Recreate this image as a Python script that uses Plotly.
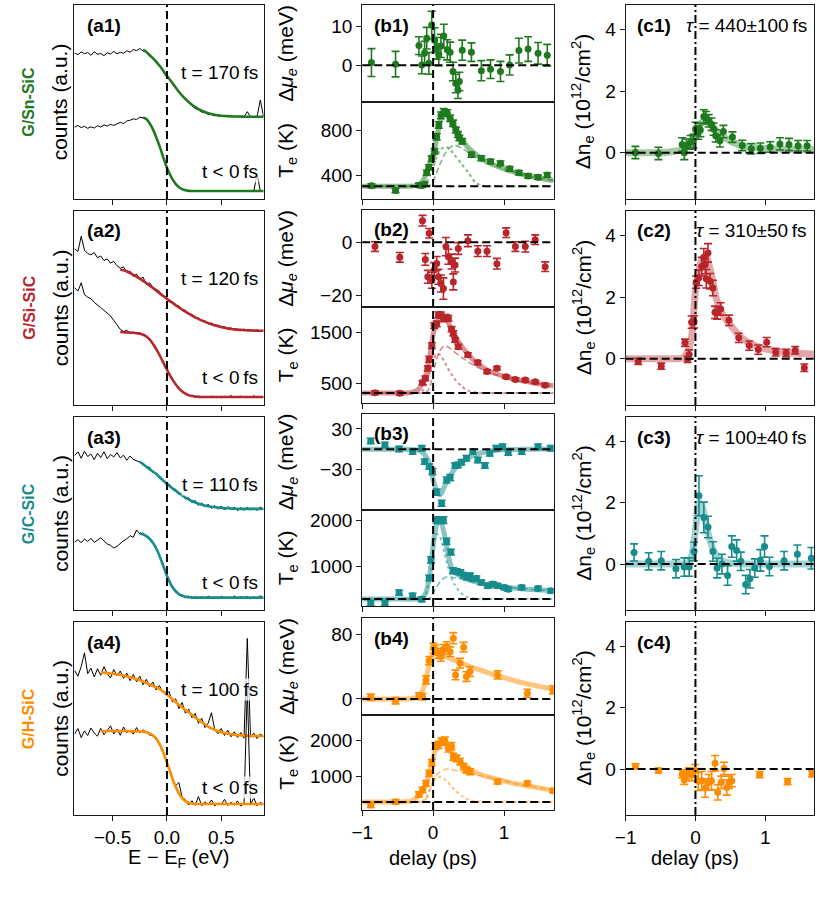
import plotly.graph_objects as go

# ---------------- data ----------------
E_GRID = [-0.85, -0.82, -0.79, -0.76, -0.73, -0.70, -0.67, -0.64, -0.61, -0.58,
          -0.55, -0.52, -0.49, -0.46, -0.43, -0.40, -0.37, -0.34, -0.31, -0.28,
          -0.25, -0.22, -0.19, -0.16, -0.13, -0.10, -0.07, -0.04, -0.01, 0.02,
          0.05, 0.08, 0.11, 0.14, 0.17, 0.20, 0.23, 0.26, 0.29, 0.32,
          0.35, 0.38, 0.41, 0.44, 0.47, 0.50, 0.53, 0.56, 0.59, 0.62,
          0.65, 0.68, 0.71, 0.74, 0.77, 0.80, 0.83, 0.86, 0.89]

SN_UP = [75.2, 74.4, 75.8, 74.9, 75.5, 74.1, 75.9, 74.6, 75.0, 73.9,
         75.4, 74.7, 76.1, 74.8, 75.6, 75.1, 76.4, 75.7, 77.0, 76.5,
         77.6, 76.2, 75.9, 73.5, 72.8, 70.5, 69.1, 66.2, 64.8, 61.9,
         60.3, 57.2, 55.4, 53.0, 51.1, 49.8, 48.4, 46.6, 46.0, 44.8,
         44.5, 43.6, 43.5, 42.9, 43.1, 42.6, 42.8, 42.4, 42.6, 42.4,
         42.5, 42.3, 42.4, 45.0, 42.4, 42.3, 42.5, 51.0, 42.4]
SN_UP_FIT = [77.0, 75.8, 74.3, 72.6, 70.8, 68.8, 66.6, 64.0, 62.0, 59.8, 57.5, 55.3, 53.3, 51.6,
             50.0, 48.6, 47.4, 46.3, 45.5, 44.8, 44.2, 43.8, 43.4, 43.1, 42.9, 42.8, 42.7, 42.6,
             42.5, 42.5, 42.5, 42.4, 42.4, 42.4, 42.4, 42.4, 42.4, 42.4]
SN_LOW = [37.0, 37.9, 36.8, 37.5, 36.4, 37.2, 36.6, 37.8, 37.1, 38.2,
          37.6, 38.5, 37.9, 38.8, 39.5, 38.9, 40.2, 40.6, 41.3, 41.0,
          42.2, 41.8, 41.0, 38.7, 36.3, 31.5, 27.9, 22.1, 17.9, 13.2,
          10.5, 7.6, 6.3, 4.9, 4.6, 4.1, 4.3, 4.0, 4.2, 4.1,
          4.0, 4.2, 4.1, 4.0, 4.2, 4.1, 4.0, 4.2, 4.1, 4.0,
          4.1, 4.2, 4.0, 4.1, 4.2, 4.0, 13.0, 4.1, 4.1]
SN_LOW_FIT = [42.0, 41.2, 39.0, 36.0, 32.0, 27.5, 22.5, 17.6, 13.5, 10.2, 7.8, 6.1, 5.1, 4.5, 4.2,
              4.1, 4.1, 4.1, 4.1, 4.1, 4.1, 4.1, 4.1, 4.1, 4.1, 4.1, 4.1, 4.1, 4.1, 4.1, 4.1,
              4.1, 4.1, 4.1, 4.1, 4.1, 4.1, 4.1]

SI_UP = [80.5, 79.2, 87.0, 79.8, 78.1, 77.4, 78.6, 75.9, 76.8, 74.5,
         75.3, 73.2, 74.0, 71.8, 70.5, 71.2, 68.4, 69.0, 66.2, 67.5,
         64.8, 65.9, 62.1, 63.0, 60.8, 59.5, 58.6, 56.2, 55.9, 53.1,
         53.4, 51.0, 51.2, 48.7, 48.9, 46.6, 46.8, 44.7, 44.9, 43.1,
         43.5, 41.8, 42.3, 40.7, 41.3, 39.8, 40.5, 39.1, 39.8, 38.6,
         39.2, 38.4, 39.1, 38.2, 38.9, 38.0, 38.8, 38.1, 38.6]
SI_UP_FIT = [69.9, 69.4, 68.8, 68.0, 67.1, 66.1, 65.1, 64.0, 62.9, 61.6,
             60.3, 59.0, 57.7, 56.4, 55.2, 53.9, 52.7, 51.5, 50.3, 49.2,
             48.1, 47.1, 46.1, 45.2, 44.4, 43.6, 42.9, 42.2, 41.6, 41.1,
             40.6, 40.2, 39.8, 39.5, 39.2, 39.0, 38.8, 38.7, 38.6, 38.5,
             38.4, 38.4, 38.3, 38.3, 38.3]
SI_LOW = [60.5, 58.7, 63.0, 56.9, 55.6, 54.8, 52.9, 51.7, 50.2, 48.8,
          47.1, 45.9, 43.6, 41.2, 39.0, 37.9, 38.5, 37.1, 37.6, 36.8,
          37.4, 36.0, 35.6, 33.2, 32.0, 28.4, 26.3, 22.1, 19.6, 15.5,
          13.6, 10.2, 8.9, 6.6, 6.1, 4.8, 4.9, 4.1, 4.5, 3.8,
          4.4, 3.9, 4.6, 4.0, 4.3, 3.7, 4.5, 4.1, 4.8, 3.9,
          4.2, 4.6, 3.8, 4.4, 4.0, 4.7, 3.9, 4.3, 4.1]
SI_LOW_FIT = [37.6, 37.5, 37.4, 37.3, 37.2, 37.0, 36.7, 36.2, 35.3, 33.8,
              31.6, 28.9, 25.9, 22.6, 19.3, 16.1, 13.2, 10.7, 8.6, 7.0,
              5.9, 5.1, 4.6, 4.3, 4.2, 4.1, 4.1, 4.1, 4.1, 4.1,
              4.1, 4.1, 4.1, 4.1, 4.1, 4.1, 4.1, 4.1, 4.1, 4.1,
              4.1, 4.1, 4.1, 4.1, 4.1]

C_UP = [80.1, 81.9, 78.6, 82.3, 79.5, 80.8, 77.9, 81.2, 79.0, 82.0,
        78.4, 80.6, 79.3, 81.5, 78.8, 80.2, 77.6, 79.8, 78.0, 77.2,
        76.5, 75.9, 73.8, 74.1, 71.3, 71.0, 68.2, 68.0, 65.1, 65.3,
        62.4, 62.6, 59.8, 60.1, 57.5, 58.2, 55.6, 56.7, 54.2, 55.5,
        53.4, 54.8, 52.6, 54.1, 52.2, 53.9, 51.8, 53.6, 52.0, 53.3,
        51.5, 53.0, 51.7, 53.2, 51.9, 52.8, 51.6, 53.4, 52.0]
C_UP_FIT = [76.8, 75.6, 74.3, 73.0, 71.7, 70.6, 69.0, 67.4, 65.9, 64.4,
            63.1, 61.8, 60.6, 59.4, 58.3, 57.3, 56.5, 55.7, 55.1, 54.6,
            54.1, 53.8, 53.5, 53.3, 53.1, 52.9, 52.8, 52.7, 52.6, 52.5,
            52.4, 52.4, 52.4, 52.4, 52.4, 52.4, 52.4, 52.4, 52.4]
C_LOW = [35.2, 36.4, 34.9, 36.8, 35.5, 37.1, 35.0, 36.3, 37.4, 35.8,
         34.2, 33.5, 32.1, 33.0, 34.6, 35.9, 36.8, 38.5, 37.7, 41.5,
         39.4, 39.8, 37.9, 37.2, 34.3, 32.6, 27.8, 24.5, 18.7, 15.8,
         11.2, 10.5, 7.6, 8.1, 6.2, 7.3, 5.9, 7.0, 6.1, 6.9,
         5.8, 7.2, 6.0, 6.8, 5.7, 7.1, 6.2, 6.6, 5.9, 7.3,
         6.0, 6.8, 6.3, 7.0, 5.8, 6.7, 6.1, 7.4, 6.2]
C_LOW_FIT = [39.7, 39.2, 38.3, 36.9, 34.8, 32.0, 28.3, 23.8, 19.2, 15.1,
             11.9, 9.7, 8.3, 7.4, 6.9, 6.6, 6.5, 6.4, 6.4, 6.4,
             6.4, 6.4, 6.4, 6.4, 6.4, 6.4, 6.4, 6.4, 6.4, 6.4,
             6.4, 6.4, 6.4, 6.4, 6.4, 6.4, 6.4, 6.4, 6.4]

H_UP = [74.8, 71.9, 77.0, 84.0, 73.2, 76.1, 71.5, 75.8, 72.4, 76.9,
        73.1, 71.0, 75.4, 72.2, 74.6, 70.8, 73.5, 69.6, 72.8, 69.0,
        71.9, 67.5, 70.3, 66.4, 68.9, 64.8, 67.1, 63.9, 62.1, 64.0,
        58.6, 60.2, 55.1, 58.3, 52.7, 54.9, 50.4, 52.6, 47.5, 50.1,
        45.3, 47.6, 53.0, 44.2, 42.1, 44.8, 41.2, 43.9, 40.5, 43.1,
        40.2, 42.7, 39.8, 91.5, 40.3, 42.5, 39.6, 42.0, 40.7]
H_UP_FIT = [73.9, 73.7, 73.5, 73.3, 73.1, 72.9, 72.6, 72.3, 71.9, 71.4,
            70.9, 70.4, 69.8, 69.1, 68.4, 67.7, 66.9, 66.2, 65.3, 64.2,
            63.0, 61.5, 60.0, 58.5, 57.1, 55.7, 54.4, 53.2, 51.9, 50.6,
            49.3, 48.1, 46.9, 45.8, 44.9, 44.1, 43.4, 42.9, 42.5, 42.1,
            41.8, 41.6, 41.4, 41.3, 41.2, 41.1, 41.0, 41.0, 40.9, 40.9, 40.9]
H_LOW = [42.0, 44.8, 40.1, 43.6, 41.2, 45.1, 42.5, 40.8, 44.9, 41.6,
         43.8, 46.2, 42.0, 44.5, 41.3, 45.6, 42.7, 44.0, 41.9, 45.3,
         42.6, 44.1, 43.0, 41.5, 41.0, 40.3, 36.2, 33.9, 28.1, 24.5,
         18.4, 15.2, 16.8, 9.1, 8.0, 5.2, 7.4, 5.0, 9.6, 4.8,
         6.9, 5.3, 7.8, 4.7, 6.2, 5.5, 8.1, 4.9, 6.6, 5.1,
         7.3, 4.6, 6.0, 65.5, 5.4, 8.9, 4.8, 6.5, 5.6]
H_LOW_FIT = [43.5, 43.5, 43.5, 43.5, 43.5, 43.5, 43.5, 43.5, 43.5, 43.4,
             43.4, 43.4, 43.3, 43.2, 42.9, 42.3, 41.3, 39.6, 37.0, 33.3,
             28.8, 23.9, 19.0, 14.7, 11.2, 8.7, 7.2, 6.3, 5.9, 5.8,
             5.7, 5.7, 5.7, 5.7, 5.7, 5.7, 5.7, 5.7, 5.7, 5.7,
             5.7, 5.7, 5.7, 5.7, 5.7, 5.7, 5.7, 5.7, 5.7, 5.7, 5.7]

# delay grid for model curves (ps)
FIT_T = [-1.0, -0.8, -0.6, -0.4, -0.3, -0.2, -0.15, -0.1, -0.05, 0.0, 0.05, 0.1, 0.15,
         0.2, 0.25, 0.3, 0.4, 0.5, 0.6, 0.7, 0.8, 1.0, 1.2, 1.4, 1.7]

# ---- G/Sn-SiC
B1_T = [-0.87, -0.53, -0.20, -0.16, -0.12, -0.09, -0.06, -0.02, 0.02, 0.05, 0.08, 0.11, 0.15, 0.20,
        0.24, 0.28, 0.32, 0.35, 0.37, 0.41, 0.54, 0.68, 0.81, 0.95, 1.08, 1.21, 1.34, 1.48, 1.61]
B1_MU = [0.7, 0.3, 5.1, 0.1, 3.2, 7.0, 0.5, 10.4, 6.5, 4.4, 2.7, 5.0, 7.6, 4.0,
         3.4, -1.6, -4.7, -6.4, -4.2, 3.9, 3.4, -1.4, -1.0, -1.6, 0.1, 3.8, 4.2, 3.1, 2.6]
B1_MU_ERR = [3.6, 3.3, 2.3, 2.3, 3.0, 2.8, 2.8, 3.6, 3.2, 2.8, 2.8, 3.0, 3.0, 2.6,
             2.6, 2.4, 2.4, 2.2, 2.4, 2.6, 2.4, 2.6, 2.4, 2.6, 2.6, 3.2, 3.2, 2.8, 2.8]
B1_TE = [305, 262, 310, 308, 318, 420, 470, 545, 610, 740, 845, 930, 960, 950,
         905, 860, 800, 760, 730, 700, 580, 550, 520, 505, 455, 420, 392, 380, 400]
B1_TE_ERR = [18, 18, 18, 18, 18, 22, 22, 25, 25, 28, 28, 30, 30, 30,
             28, 28, 26, 26, 24, 24, 22, 22, 20, 20, 20, 20, 20, 20, 20]
B1_TE_FIT = [300, 300, 300, 300, 302, 315, 345, 410, 500, 580, 720, 880, 950,
             930, 880, 820, 720, 640, 585, 540, 505, 455, 415, 385, 350]
B1_TE_SLOW = [300, 300, 300, 300, 300, 300, 300, 300, 310, 350, 420, 500, 570,
              620, 650, 665, 640, 600, 565, 535, 505, 455, 415, 385, 350]
B1_TE_FAST = [300, 300, 300, 300, 300, 300, 305, 330, 390, 470, 560, 620, 650,
              645, 620, 580, 500, 420, 330, 305, 300, 300, 300, 300, 300]
C1_T = [-0.86, -0.53, -0.19, -0.16, -0.13, -0.07, -0.03, 0.002, 0.04, 0.07, 0.12, 0.15, 0.19, 0.23,
        0.26, 0.29, 0.35, 0.40, 0.53, 0.67, 0.80, 0.93, 1.07, 1.21, 1.34, 1.47, 1.60]
C1_N = [0.01, -0.02, 0.27, 0.0, 0.23, 0.34, 0.38, 0.77, 0.66, 0.74, 1.18, 1.14, 1.04, 0.93,
        0.77, 0.55, 0.39, 0.69, 0.51, 0.24, 0.13, 0.15, 0.19, 0.29, 0.27, 0.23, 0.23]
C1_ERR = [0.2, 0.2, 0.22, 0.22, 0.22, 0.22, 0.22, 0.22, 0.22, 0.22, 0.22, 0.2, 0.2, 0.2,
          0.2, 0.2, 0.2, 0.2, 0.17, 0.17, 0.17, 0.17, 0.17, 0.2, 0.2, 0.17, 0.17]
C1_FIT = [0, 0, 0, 0.02, 0.05, 0.1, 0.15, 0.25, 0.4, 0.6, 0.85, 1.0, 1.02,
          0.95, 0.85, 0.72, 0.52, 0.38, 0.28, 0.22, 0.18, 0.14, 0.12, 0.11, 0.1]

# ---- G/Si-SiC
B2_T = [-0.82, -0.47, -0.15, -0.11, -0.075, -0.056, -0.018, 0.015, 0.051, 0.075, 0.11, 0.145, 0.18,
        0.215, 0.26, 0.285, 0.31, 0.355, 0.49, 0.63, 0.76, 0.90, 1.03, 1.16, 1.30, 1.44, 1.58]
B2_MU = [-1.6, -5.6, 8.1, -6.4, -12.9, 3.4, -14.2, -10.4, -7.9, -12.9, -15.4, -17.3, -1.6,
         -5.4, -7.2, -14.8, -8.5, -2.3, 0.6, -3.3, -3.3, -8.0, 3.6, -1.6, -1.6, 1.0, -9.1]
B2_MU_ERR = [1.8, 1.8, 2.0, 2.2, 2.4, 1.8, 3.0, 2.8, 2.6, 2.8, 3.2, 4.0, 3.4,
             2.8, 2.8, 3.0, 2.6, 2.2, 2.2, 2.0, 2.0, 2.0, 1.8, 1.8, 2.0, 1.8, 1.8]
B2_TE = [325, 312, 520, 605, 800, 975, 1240, 1628, 1660, 1837, 1837, 1760, 1790,
         1770, 1558, 1480, 1350, 1220, 1060, 910, 735, 800, 635, 583, 570, 537, 472]
B2_TE_ERR = [35, 35, 40, 45, 50, 55, 55, 55, 55, 55, 55, 55, 55,
             55, 50, 50, 45, 45, 40, 40, 35, 35, 35, 30, 30, 30, 30]
B2_TE_FIT = [320, 320, 320, 320, 330, 400, 520, 680, 1000, 1450, 1720, 1840, 1820,
             1720, 1580, 1440, 1230, 1060, 920, 820, 740, 640, 570, 520, 460]
B2_TE_SLOW = [320, 320, 320, 320, 320, 320, 320, 330, 420, 700, 980, 1150, 1230,
              1220, 1180, 1120, 1010, 920, 840, 770, 710, 630, 565, 515, 460]
B2_TE_FAST = [320, 320, 320, 320, 320, 325, 360, 480, 700, 950, 1080, 1060, 950,
              820, 700, 600, 450, 360, 330, 320, 320, 320, 320, 320, 320]
C2_T = [-0.82, -0.49, -0.15, -0.113, -0.09, -0.055, -0.02, 0.01, 0.05, 0.09, 0.12, 0.14, 0.155, 0.18,
        0.21, 0.25, 0.28, 0.31, 0.36, 0.48, 0.62, 0.77, 0.90, 1.02, 1.15, 1.30, 1.43, 1.56]
C2_N = [-0.08, -0.24, 0.52, -0.02, 0.14, 1.19, 1.2, 2.49, 2.63, 3.0, 3.28, 3.06, 2.6, 3.44,
        2.52, 2.3, 1.51, 1.49, 1.62, 1.25, 0.68, 0.43, 0.3, 0.54, 0.21, 0.19, 0.28, -0.29]
C2_ERR = [0.1, 0.1, 0.12, 0.1, 0.15, 0.2, 0.2, 0.2, 0.25, 0.3, 0.3, 0.3, 0.3, 0.3,
          0.25, 0.25, 0.2, 0.2, 0.2, 0.17, 0.15, 0.15, 0.15, 0.15, 0.12, 0.12, 0.12, 0.12]
C2_FIT = [0, 0, 0, 0, 0, 0.02, 0.1, 0.3, 0.8, 2.2, 2.9, 3.25, 3.35,
          3.0, 2.5, 1.95, 1.4, 1.1, 0.82, 0.62, 0.48, 0.32, 0.24, 0.19, 0.15]

# ---- G/C-SiC
B3_T = [-0.88, -0.68, -0.48, -0.29, -0.16, -0.12, -0.056, -0.01, 0.05, 0.12, 0.19, 0.24, 0.31,
        0.35, 0.40, 0.47, 0.56, 0.63, 0.73, 0.80, 0.89, 0.98, 1.06, 1.25, 1.48, 1.66]
B3_MU = [12.2, 6.2, 0.3, -3.7, 1.2, -18.6, -26.0, -33.5, -64.0, -80.6, -45.9, -42.4, -24.5,
         -23.5, -19.6, -13.6, -3.7, -16.1, -24.5, -6.2, 1.2, 3.7, -5.2, -3.7, 3.7, 1.2]
B3_MU_ERR = [4, 4, 4, 4, 4, 4, 4, 4.5, 4.5, 4.5, 4.5, 4.5, 4,
             4, 4, 4, 4, 4, 4, 4, 4, 4, 4, 4, 4, 4]
B3_MU_FIT = [0, 0, 0, 0, -0.5, -2, -5, -11, -22, -45, -62, -68, -58,
             -46, -38, -30, -20, -13, -8, -5, -3, -1, -0.5, 0, 0]
B3_TE_T = [-0.88, -0.68, -0.48, -0.29, -0.16, -0.056, -0.03, 0.05, 0.098, 0.145, 0.19, 0.25, 0.28,
           0.33, 0.385, 0.43, 0.48, 0.52, 0.56, 0.61, 0.68, 0.77, 0.84, 0.91, 1.0, 1.06, 1.25, 1.48, 1.66]
B3_TE = [210, 210, 442, 370, 297, 754, 1145, 2000, 2000, 2000, 1543, 1312, 913,
         899, 877, 819, 768, 804, 732, 746, 659, 587, 623, 587, 551, 514, 551, 529, 478]
B3_TE_ERR = [55, 55, 55, 55, 55, 60, 65, 70, 70, 70, 65, 60, 60,
             55, 55, 55, 55, 55, 50, 50, 50, 50, 50, 50, 45, 45, 45, 45, 45]
B3_TE_FIT = [300, 300, 300, 300, 300, 305, 330, 450, 800, 1450, 1900, 1990, 1750,
             1350, 1020, 880, 780, 720, 670, 630, 600, 560, 530, 505, 480]
B3_TE_SLOW = [300, 300, 300, 300, 300, 300, 300, 300, 320, 420, 560, 680, 750,
              780, 775, 760, 730, 700, 665, 630, 600, 560, 530, 505, 480]
B3_TE_FAST = [300, 300, 300, 300, 300, 300, 310, 420, 760, 1350, 1700, 1620, 1350,
              1050, 800, 620, 420, 330, 305, 300, 300, 300, 300, 300, 300]
C3_T = [-0.88, -0.67, -0.49, -0.28, -0.16, -0.09, -0.02, 0.05, 0.12, 0.18, 0.25, 0.31, 0.38,
        0.46, 0.52, 0.59, 0.65, 0.72, 0.78, 0.85, 0.93, 0.99, 1.06, 1.27, 1.46, 1.66]
C3_N = [0.38, 0.09, 0.11, -0.15, -0.1, -0.1, 0.41, 2.23, 1.52, 1.21, 0.41, -0.13, 0.0,
        -0.37, 0.57, 0.44, 0.09, -0.67, -0.48, -0.13, 0.12, 0.57, -0.08, 0.11, 0.32, 0.19]
C3_ERR = [0.28, 0.28, 0.3, 0.3, 0.3, 0.3, 0.3, 0.65, 0.5, 0.35, 0.32, 0.32, 0.32,
          0.32, 0.35, 0.35, 0.3, 0.3, 0.3, 0.3, 0.35, 0.35, 0.3, 0.3, 0.3, 0.35]
C3_FIT = [0, 0, 0, 0, 0, 0, 0, 0.05, 0.3, 1.1, 2.0, 1.85, 1.3,
          0.85, 0.5, 0.28, 0.08, 0.03, 0.01, 0, 0, 0, 0, 0, 0]

# ---- G/H-SiC
B4_T = [-0.88, -0.53, -0.20, -0.15, -0.10, -0.056, 0.005, 0.03, 0.075, 0.11, 0.145, 0.19,
        0.24, 0.285, 0.317, 0.38, 0.43, 0.47, 0.52, 0.91, 1.33, 1.69]
B4_MU = [2.1, -2.1, 3.8, 2.9, 23.8, 47.9, 63.3, 61.3, 57.0, 53.0, 62.0, 65.4,
         59.0, 75.8, 30.0, 44.6, 64.6, 27.9, 34.2, 30.0, 7.1, 11.3]
B4_MU_ERR = [4, 4, 4, 4, 5, 5, 6, 6, 6, 6, 6, 6,
             6, 7, 6, 6, 6, 6, 6, 5, 5, 5]
B4_MU_FIT = [0, 0, 0, 0, 0.5, 3, 10, 25, 45, 56, 57, 56, 54,
             52, 50, 48.5, 45, 41, 38, 35, 32, 26.5, 21.5, 17.5, 12]
B4_TE_T = [-0.88, -0.53, -0.20, -0.15, -0.10, -0.056, -0.018, 0.03, 0.075, 0.12, 0.165, 0.215,
           0.26, 0.285, 0.33, 0.38, 0.43, 0.47, 0.52, 0.91, 1.33, 1.69]
B4_TE = [213, 305, 509, 630, 815, 1093, 1389, 1852, 1880, 1972, 2000, 1787,
         1852, 1556, 1509, 1417, 1278, 1185, 1139, 861, 815, 611]
B4_TE_ERR = [70, 60, 70, 75, 80, 85, 90, 95, 95, 100, 100, 100,
             100, 95, 90, 90, 85, 80, 80, 60, 60, 55]
B4_TE_FIT = [300, 300, 300, 305, 330, 470, 600, 790, 1100, 1500, 1880, 1980, 1950,
             1850, 1720, 1580, 1380, 1230, 1120, 1040, 980, 880, 790, 720, 620]
B4_TE_SLOW = [300, 300, 300, 300, 300, 300, 310, 380, 600, 900, 1050, 1140, 1190,
              1210, 1200, 1180, 1140, 1100, 1060, 1020, 980, 880, 790, 720, 620]
B4_TE_FAST = [300, 300, 300, 300, 300, 300, 320, 420, 620, 850, 980, 1000, 950,
              860, 750, 640, 470, 360, 315, 300, 300, 300, 300, 300, 300]
C4_T = [-0.86, -0.53, -0.19, -0.16, -0.13, -0.09, -0.05, -0.005, 0.04, 0.09, 0.14, 0.19,
        0.23, 0.28, 0.32, 0.37, 0.41, 0.45, 0.48, 0.52, 0.92, 1.32, 1.67]
C4_N = [0.09, -0.05, -0.16, -0.35, -0.18, -0.11, -0.19, -0.05, -0.4, -0.38, -0.62, -0.43,
        -0.38, 0.19, -0.76, -0.43, 0.02, -0.6, -0.43, -0.38, -0.18, -0.41, -0.16]
C4_ERR = [0.08, 0.08, 0.12, 0.15, 0.15, 0.15, 0.2, 0.2, 0.3, 0.3, 0.3, 0.25,
          0.3, 0.25, 0.25, 0.2, 0.2, 0.25, 0.2, 0.2, 0.1, 0.1, 0.1]

SAMPLES = ["G/Sn-SiC", "G/Si-SiC", "G/C-SiC", "G/H-SiC"]
T_LABELS = ["t = 170\u2009fs", "t = 120\u2009fs", "t = 110\u2009fs", "t = 100\u2009fs"]
TAU_LABELS = ["<i>τ</i> = 440±100\u2009fs", "<i>τ</i> = 310±50\u2009fs", "<i>τ</i> = 100±40\u2009fs", None]
TE_BASE = [300, 320, 300, 300]
MU_TICKS = [[0, 10], [-20, 0], [-30, 30], [0, 80]]
MU_TICKTEXT = [["0", "10"], ["−20", "0"], ["−30", "30"], ["0", "80"]]
TE_TICKS = [[400, 800], [500, 1500], [1000, 2000], [1000, 2000]]

# ---------------- styling ----------------
COLORS = ["#1f7a1f", "#b8262b", "#178c8c", "#ff8c00"]
FONT = "Liberation Sans, Arial, Helvetica, sans-serif"
W, H = 822, 916
MU_RANGE = [[-9.5, 15.6], [-24.2, 12.1], [-90.6, 52.3], [-20, 101]]
TE_RANGE = [[187, 1049], [125, 1990], [152, 2217], [75, 2714]]
COL_A = (64, 256)
COL_B = (356, 550)
COL_C = (623, 814)
ROW_AC = [(5, 199), (211, 405), (417, 610), (622, 815)]
ROW_B = [(5, 102, 199), (210, 307, 403), (414, 510, 606), (618, 715, 810)]

SPEC_UP = [SN_UP, SI_UP, C_UP, H_UP]
SPEC_UP_FIT = [SN_UP_FIT, SI_UP_FIT, C_UP_FIT, H_UP_FIT]
SPEC_LOW = [SN_LOW, SI_LOW, C_LOW, H_LOW]
SPEC_LOW_FIT = [SN_LOW_FIT, SI_LOW_FIT, C_LOW_FIT, H_LOW_FIT]
MU_T = [B1_T, B2_T, B3_T, B4_T]
MU = [B1_MU, B2_MU, B3_MU, B4_MU]
MU_ERR = [B1_MU_ERR, B2_MU_ERR, B3_MU_ERR, B4_MU_ERR]
MU_FIT = [None, None, B3_MU_FIT, B4_MU_FIT]
TE_T = [B1_T, B2_T, B3_TE_T, B4_TE_T]
TE = [B1_TE, B2_TE, B3_TE, B4_TE]
TE_ERR = [B1_TE_ERR, B2_TE_ERR, B3_TE_ERR, B4_TE_ERR]
TE_FIT = [B1_TE_FIT, B2_TE_FIT, B3_TE_FIT, B4_TE_FIT]
TE_SLOW = [B1_TE_SLOW, B2_TE_SLOW, B3_TE_SLOW, B4_TE_SLOW]
TE_FAST = [B1_TE_FAST, B2_TE_FAST, B3_TE_FAST, B4_TE_FAST]
N_T = [C1_T, C2_T, C3_T, C4_T]
N = [C1_N, C2_N, C3_N, C4_N]
N_ERR = [C1_ERR, C2_ERR, C3_ERR, C4_ERR]
N_FIT = [C1_FIT, C2_FIT, C3_FIT, None]


def fx(p):
    return p / W


def fy(p):
    return 1 - p / H


def rgba(hexc, a):
    h = hexc.lstrip('#')
    return f"rgba({int(h[0:2],16)},{int(h[2:4],16)},{int(h[4:6],16)},{a})"


def ref(i, k):
    return k if i == 1 else f"{k}{i}"


def axname(i, k):
    return f"{k}axis" if i == 1 else f"{k}axis{i}"


BASE_AX = dict(showline=True, linecolor='#1a1a1a', linewidth=1.2, mirror=True, showgrid=False,
               zeroline=False, ticks='outside', ticklen=5, tickwidth=1.2, tickcolor='#1a1a1a',
               tickfont=dict(family=FONT, size=19, color='black'))

fig = go.Figure()
layout = {}
shapes = []
annotations = []


def ann(text, x, y, size, color='black', bold=False, **kw):
    d = dict(text=(f"<b>{text}</b>" if bold else text), x=fx(x), y=fy(y), xref='paper', yref='paper',
             showarrow=False, font=dict(family=FONT, size=size, color=color))
    d.update(kw)
    annotations.append(d)


def vline(i, dash):
    shapes.append(dict(type='line', xref=ref(i, 'x'), yref=ref(i, 'y') + ' domain', x0=0, x1=0, y0=0, y1=1,
                       line=dict(color='black', width=2, dash=dash), layer='above'))


def hline(i, y):
    shapes.append(dict(type='line', xref=ref(i, 'x') + ' domain', yref=ref(i, 'y'), x0=0, x1=1, y0=y, y1=y,
                       line=dict(color='black', width=2, dash='8px,4px'), layer='above'))


def err_scatter(i, x, y, e, col):
    fig.add_trace(go.Scatter(x=x, y=y, mode='markers', xaxis=ref(i, 'x'), yaxis=ref(i, 'y'),
                             marker=dict(color=col, size=7),
                             error_y=dict(type='data', array=e, visible=True, color=col, thickness=1.6, width=4)))


def line(i, x, y, col, width, dash='solid'):
    fig.add_trace(go.Scatter(x=x, y=y, mode='lines', xaxis=ref(i, 'x'), yaxis=ref(i, 'y'),
                             line=dict(color=col, width=width, dash=dash, shape='spline', smoothing=0.8)))


DASH = '8px,4px'
DASHDOT = '8px,3px,2px,3px'

for r in range(4):
    col = COLORS[r]
    last = r == 3
    ia, ibt, ibb, ic = 4 * r + 1, 4 * r + 2, 4 * r + 3, 4 * r + 4
    top, bot = ROW_AC[r]
    btop, bmid, bbot = ROW_B[r]

    # ---- column a: spectra
    for spec, fit in ((SPEC_UP[r], SPEC_UP_FIT[r]), (SPEC_LOW[r], SPEC_LOW_FIT[r])):
        fig.add_trace(go.Scatter(x=E_GRID, y=spec, mode='lines', xaxis=ref(ia, 'x'), yaxis=ref(ia, 'y'),
                                 line=dict(color='black', width=1)))
        padded = [None] * (len(E_GRID) - len(fit)) + fit
        fig.add_trace(go.Scatter(x=E_GRID, y=padded, mode='lines', xaxis=ref(ia, 'x'), yaxis=ref(ia, 'y'),
                                 line=dict(color=col, width=2.6, shape='spline', smoothing=0.6)))
    layout[axname(ia, 'x')] = dict(BASE_AX, domain=[fx(COL_A[0]), fx(COL_A[1])], range=[-0.855, 0.89],
                                   anchor=ref(ia, 'y'), tickvals=[-0.5, 0, 0.5],
                                   ticktext=['−0.5', '0.0', '0.5'], showticklabels=last)
    layout[axname(ia, 'y')] = dict(BASE_AX, domain=[fy(bot), fy(top)], range=[0, 100],
                                   anchor=ref(ia, 'x'), ticks='', showticklabels=False)
    vline(ia, DASH)

    # ---- column b top: chemical potential
    if MU_FIT[r] is not None:
        line(ibt, FIT_T, MU_FIT[r], rgba(col, 0.5), 5)
    err_scatter(ibt, MU_T[r], MU[r], MU_ERR[r], col)
    layout[axname(ibt, 'x')] = dict(BASE_AX, domain=[fx(COL_B[0]), fx(COL_B[1])], range=[-1, 1.7],
                                    anchor=ref(ibt, 'y'), ticks='', showticklabels=False)
    layout[axname(ibt, 'y')] = dict(BASE_AX, domain=[fy(bmid), fy(btop)], range=MU_RANGE[r],
                                    anchor=ref(ibt, 'x'), tickvals=MU_TICKS[r], ticktext=MU_TICKTEXT[r])
    vline(ibt, DASH)
    hline(ibt, 0)

    # ---- column b bottom: electron temperature
    line(ibb, FIT_T, TE_SLOW[r], rgba(col, 0.55), 1.6, '6px,3px')
    line(ibb, FIT_T, TE_FAST[r], rgba(col, 0.55), 2, 'dot')
    line(ibb, FIT_T, TE_FIT[r], rgba(col, 0.5), 5)
    err_scatter(ibb, TE_T[r], TE[r], TE_ERR[r], col)
    layout[axname(ibb, 'x')] = dict(BASE_AX, domain=[fx(COL_B[0]), fx(COL_B[1])], range=[-1, 1.7],
                                    anchor=ref(ibb, 'y'), tickvals=[-1, 0, 1], ticktext=['−1', '0', '1'],
                                    showticklabels=last)
    layout[axname(ibb, 'y')] = dict(BASE_AX, domain=[fy(bbot), fy(bmid)], range=TE_RANGE[r],
                                    anchor=ref(ibb, 'x'), tickvals=TE_TICKS[r])
    vline(ibb, DASH)
    hline(ibb, TE_BASE[r])

    # ---- column c: carrier density
    if N_FIT[r] is not None:
        line(ic, FIT_T, N_FIT[r], rgba(col, 0.4), 7)
    err_scatter(ic, N_T[r], N[r], N_ERR[r], col)
    layout[axname(ic, 'x')] = dict(BASE_AX, domain=[fx(COL_C[0]), fx(COL_C[1])], range=[-1, 1.7],
                                   anchor=ref(ic, 'y'), tickvals=[-1, 0, 1], ticktext=['−1', '0', '1'],
                                   showticklabels=last)
    layout[axname(ic, 'y')] = dict(BASE_AX, domain=[fy(bot), fy(top)], range=[-1.5, 4.8],
                                   anchor=ref(ic, 'x'), tickvals=[0, 2, 4])
    vline(ic, DASHDOT)
    hline(ic, 0)

    # ---- text
    ann(SAMPLES[r], 18, (top + bot) / 2, 16, color=col, bold=True, textangle=-90,
        xanchor='center', yanchor='middle')
    ann("counts (a.u.)", 50, (top + bot) / 2, 21, textangle=-90, xanchor='center', yanchor='middle')
    ann("Δ<i>μ</i><sub><i>e</i></sub> (meV)", 280, (btop + bmid) / 2, 21, textangle=-90,
        xanchor='center', yanchor='middle')
    ann("T<sub>e</sub> (K)", 280, (bmid + bbot) / 2, 21, textangle=-90, xanchor='center', yanchor='middle')
    ann("Δn<sub>e</sub> (10<sup>12</sup>/cm<sup>2</sup>)", 580, (top + bot) / 2, 21, textangle=-90,
        xanchor='center', yanchor='middle')
    ann(f"(a{r + 1})", 75, top + 20, 19, bold=True, xanchor='left', yanchor='middle')
    ann(f"(b{r + 1})", 366, btop + 20, 19, bold=True, xanchor='left', yanchor='middle')
    ann(f"(c{r + 1})", 632, top + 20, 19, bold=True, xanchor='left', yanchor='middle')
    ann(T_LABELS[r], 251, top + 0.35 * (bot - top), 19, xanchor='right', yanchor='middle',
        bgcolor='rgba(255,255,255,0.75)', borderpad=0)
    ann("t &lt; 0\u2009fs", 251, top + 0.86 * (bot - top), 19, xanchor='right', yanchor='middle',
        bgcolor='rgba(255,255,255,0.75)', borderpad=0)
    if TAU_LABELS[r]:
        ann(TAU_LABELS[r], 809, top + 20, 19, xanchor='right', yanchor='middle')

ann("E − E<sub>F</sub> (eV)", 170, 858, 20, xanchor='center', yanchor='middle')
ann("delay (ps)", 428, 858, 20, xanchor='center', yanchor='middle')
ann("delay (ps)", 693, 858, 20, xanchor='center', yanchor='middle')

fig.update_layout(width=W, height=H, margin=dict(l=0, r=0, t=0, b=0), showlegend=False,
                  paper_bgcolor='white', plot_bgcolor='white', shapes=shapes, annotations=annotations,
                  font=dict(family=FONT, size=19, color='black'), **layout)

fig.write_html("out.html", post_script="document.body.style.margin='0px';")
